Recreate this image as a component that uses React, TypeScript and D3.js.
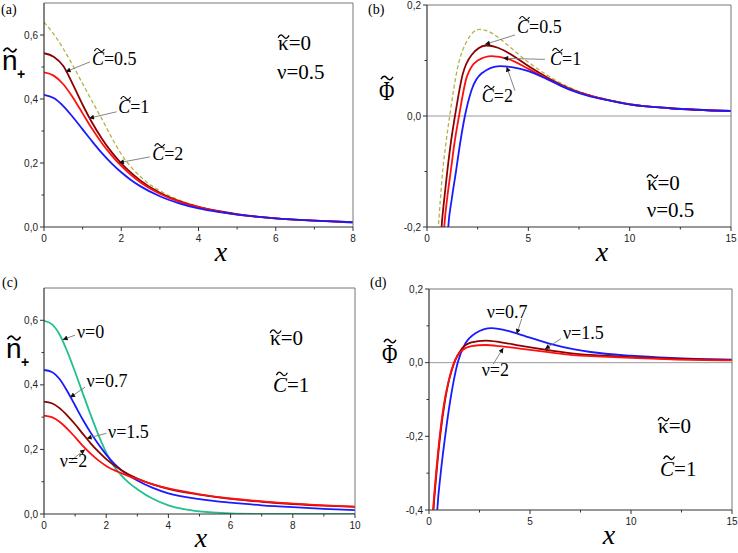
import React from "react";
import * as d3 from "d3";

type Pt = [number, number];

// (a) n+ against x, kappa=0, nu=0.5
const nDashedA: Pt[] = [
  [0, 0.64], [0.25, 0.603], [0.5, 0.557], [0.75, 0.504], [1, 0.448], [1.25, 0.392],
  [1.5, 0.337], [1.75, 0.28], [2, 0.228], [2.25, 0.188], [2.5, 0.157], [2.75, 0.132],
  [3, 0.113], [3.5, 0.084], [4, 0.064], [5, 0.04], [6, 0.027], [7, 0.02], [8, 0.015],
];
const nC05A: Pt[] = [
  [0, 0.543], [0.25, 0.532], [0.5, 0.503], [0.75, 0.445], [1, 0.382], [1.25, 0.325],
  [1.5, 0.276], [1.75, 0.234], [2, 0.199], [2.25, 0.17], [2.5, 0.145], [3, 0.107],
  [3.5, 0.081], [4, 0.063], [4.5, 0.05], [5, 0.04], [6, 0.027], [7, 0.02], [8, 0.015],
];
const nC1A: Pt[] = [
  [0, 0.483], [0.25, 0.473], [0.5, 0.446], [0.75, 0.404], [1, 0.355], [1.25, 0.306],
  [1.5, 0.262], [1.75, 0.224], [2, 0.191], [2.25, 0.163], [2.5, 0.139], [3, 0.104],
  [3.5, 0.079], [4, 0.062], [4.5, 0.049], [5, 0.039], [6, 0.027], [7, 0.02], [8, 0.015],
];
const nC2A: Pt[] = [
  [0, 0.413], [0.25, 0.403], [0.5, 0.378], [0.75, 0.343], [1, 0.305], [1.25, 0.267],
  [1.5, 0.231], [1.75, 0.199], [2, 0.171], [2.25, 0.147], [2.5, 0.127], [3, 0.096],
  [3.5, 0.074], [4, 0.058], [4.5, 0.047], [5, 0.039], [6, 0.027], [7, 0.02], [8, 0.014],
];

// (b) Phi against x, kappa=0, nu=0.5
const phiDashedB: Pt[] = [
  [0.5, -0.23], [0.56, -0.2], [0.66, -0.15], [0.77, -0.1], [0.93, -0.05], [1.12, 0],
  [1.5, 0.085], [2, 0.137], [2.58, 0.156], [3, 0.153], [3.5, 0.142], [4, 0.127],
  [5, 0.097], [6, 0.072], [7, 0.052], [8, 0.038], [9, 0.029], [10, 0.022], [12, 0.014], [15, 0.009],
];
const phiC05B: Pt[] = [
  [0.67, -0.23], [0.72, -0.2], [0.85, -0.15], [1, -0.1], [1.17, -0.05], [1.38, 0],
  [1.76, 0.075], [2.2, 0.11], [2.94, 0.127], [3.5, 0.123], [4, 0.114], [5, 0.09],
  [6, 0.068], [7, 0.05], [8, 0.037], [9, 0.028], [10, 0.021], [12, 0.014], [15, 0.009],
];
const phiC1B: Pt[] = [
  [0.8, -0.23], [0.85, -0.2], [0.99, -0.15], [1.17, -0.1], [1.35, -0.05], [1.58, 0],
  [1.96, 0.07], [2.5, 0.1], [3.19, 0.108], [4, 0.103], [5, 0.085], [6, 0.066],
  [7, 0.049], [8, 0.037], [9, 0.028], [10, 0.021], [12, 0.014], [15, 0.009],
];
const phiC2B: Pt[] = [
  [1, -0.23], [1.05, -0.2], [1.22, -0.15], [1.43, -0.1], [1.63, -0.05], [1.87, 0],
  [2.2, 0.047], [2.7, 0.077], [3.6, 0.09], [4.5, 0.086], [5, 0.081], [6, 0.065],
  [7, 0.048], [8, 0.036], [9, 0.028], [10, 0.021], [12, 0.014], [15, 0.009],
];

// (c) n+ against x, kappa=0, C=1
const nNu0C: Pt[] = [
  [0, 0.598], [0.25, 0.588], [0.5, 0.556], [0.75, 0.503], [1, 0.44], [1.25, 0.373],
  [1.5, 0.307], [1.75, 0.245], [2, 0.19], [2.25, 0.148], [2.5, 0.118], [2.75, 0.095],
  [3, 0.077], [3.5, 0.047], [4, 0.027], [4.5, 0.015], [5, 0.008], [6, 0.002], [7, 0.0004],
  [8, 0], [10, 0],
];
const nNu07C: Pt[] = [
  [0, 0.446], [0.25, 0.44], [0.5, 0.418], [0.75, 0.38], [1, 0.336], [1.25, 0.292],
  [1.5, 0.252], [1.75, 0.216], [2, 0.184], [2.25, 0.157], [2.5, 0.135], [2.75, 0.118],
  [3, 0.104], [3.5, 0.081], [4, 0.064], [5, 0.046], [6, 0.035], [7, 0.027], [8, 0.021],
  [9, 0.016], [10, 0.012],
];
const nNu15C: Pt[] = [
  [0, 0.348], [0.25, 0.343], [0.5, 0.328], [0.75, 0.305], [1, 0.278], [1.25, 0.248],
  [1.5, 0.219], [1.75, 0.193], [2, 0.17], [2.5, 0.135], [3, 0.11], [3.5, 0.092],
  [4, 0.078], [5, 0.06], [6, 0.047], [7, 0.038], [8, 0.031], [9, 0.026], [10, 0.022],
];
const nNu2C: Pt[] = [
  [0, 0.305], [0.25, 0.3], [0.5, 0.286], [0.75, 0.264], [1, 0.238], [1.25, 0.211],
  [1.5, 0.187], [1.75, 0.166], [2, 0.149], [2.5, 0.126], [3, 0.108], [3.5, 0.092],
  [4, 0.079], [5, 0.061], [6, 0.048], [7, 0.039], [8, 0.032], [9, 0.027], [10, 0.023],
];

// (d) Phi against x, kappa=0, C=1
const phiNu07D: Pt[] = [
  [0.36, -0.45], [0.41, -0.4], [0.58, -0.3], [0.8, -0.2], [1.06, -0.1], [1.22, -0.05],
  [1.42, 0], [1.78, 0.05], [2.3, 0.08], [3.1, 0.094], [4, 0.085], [4.6, 0.075],
  [6, 0.051], [7.2, 0.036], [8, 0.029], [10, 0.019], [12, 0.013], [15, 0.008],
];
const phiNu15D: Pt[] = [
  [0.16, -0.45], [0.22, -0.4], [0.37, -0.3], [0.55, -0.2], [0.8, -0.1], [0.98, -0.05],
  [1.25, 0], [1.63, 0.038], [2.1, 0.055], [2.8, 0.06], [3.5, 0.056], [4.5, 0.046],
  [6, 0.033], [7.3, 0.024], [8, 0.021], [10, 0.015], [12, 0.011], [15, 0.007],
];
const phiNu2D: Pt[] = [
  [0.14, -0.45], [0.2, -0.4], [0.35, -0.3], [0.53, -0.2], [0.78, -0.1], [0.97, -0.05],
  [1.24, 0], [1.63, 0.033], [2.1, 0.045], [2.8, 0.048], [3.5, 0.045], [4.5, 0.038],
  [6, 0.028], [7.3, 0.02], [8, 0.018], [10, 0.013], [12, 0.009], [15, 0.006],
];

// ticks
const xTicks8 = [0, 2, 4, 6, 8];
const xMinor8 = [1, 3, 5, 7];
const xTicks10 = [0, 2, 4, 6, 8, 10];
const xMinor10 = [1, 3, 5, 7, 9];
const xTicks15 = [0, 5, 10, 15];
const xMinor15 = [2.5, 7.5, 12.5];
const nTicks = [0, 0.2, 0.4, 0.6];
const nMinor = [0.1, 0.3, 0.5];
const phiTicksB = [-0.2, 0, 0.2];
const phiMinorB = [-0.1, 0.1];
const phiTicksD = [-0.4, -0.2, 0, 0.2];
const phiMinorD = [-0.3, -0.1, 0.1];

const SERIF = "'Liberation Serif', 'Times New Roman', serif";
const SANS = "'Liberation Sans', Arial, sans-serif";

const DARKRED = "#8c0000";
const RED = "#ff1010";
const BLUE = "#1a1aff";
const GREEN = "#22c08c";
const OLIVE = "#b4b446";

type Series = { pts: Pt[]; color: string; width?: number; dash?: string };
type Note = { sym: "C" | "nu"; value: string; at: Pt; from: Pt; to: Pt };
type Param = { sym: "kappa" | "nu" | "C"; value: string; at: Pt };

type PanelSpec = {
  id: string;
  tag: string;
  tagPos: Pt;
  box: [number, number, number, number]; // left, right, top, bottom
  xDomain: Pt;
  yDomain: Pt;
  xTicks: number[];
  xMinor: number[];
  yTicks: number[];
  yMinor: number[];
  zero: boolean;
  series: Series[];
  notes: Note[];
  params: Param[];
  yTitle: "n" | "phi";
  yTitlePos: Pt;
  xTitlePos: Pt;
};

const panels: PanelSpec[] = [
  {
    id: "a", tag: "(a)", tagPos: [1, 14], box: [44, 353, 3, 227],
    xDomain: [0, 8], yDomain: [0, 0.7],
    xTicks: xTicks8, xMinor: xMinor8, yTicks: nTicks, yMinor: nMinor, zero: false,
    series: [
      { pts: nDashedA, color: OLIVE, width: 1.3, dash: "4,2.5" },
      { pts: nC05A, color: DARKRED },
      { pts: nC1A, color: RED },
      { pts: nC2A, color: BLUE },
    ],
    notes: [
      { sym: "C", value: "=0.5", at: [1.24, 0.506], from: [1.19, 0.516], to: [0.56, 0.485] },
      { sym: "C", value: "=1", at: [1.92, 0.356], from: [1.88, 0.36], to: [1.165, 0.34] },
      { sym: "C", value: "=2", at: [2.8, 0.209], from: [2.74, 0.219], to: [1.94, 0.201] },
    ],
    params: [
      { sym: "kappa", value: "=0", at: [6.06, 0.553] },
      { sym: "nu", value: "=0.5", at: [6.03, 0.4625] },
    ],
    yTitle: "n", yTitlePos: [2, 70], xTitlePos: [221, 261],
  },
  {
    id: "b", tag: "(b)", tagPos: [368, 14], box: [427, 731, 5, 227],
    xDomain: [0, 15], yDomain: [-0.2, 0.2],
    xTicks: xTicks15, xMinor: xMinor15, yTicks: phiTicksB, yMinor: phiMinorB, zero: true,
    series: [
      { pts: phiDashedB, color: OLIVE, width: 1.3, dash: "4,2.5" },
      { pts: phiC05B, color: DARKRED },
      { pts: phiC1B, color: RED },
      { pts: phiC2B, color: BLUE },
    ],
    notes: [
      { sym: "C", value: "=0.5", at: [4.44, 0.1495], from: [4.34, 0.146], to: [2.86, 0.129] },
      { sym: "C", value: "=1", at: [6.07, 0.092], from: [5.82, 0.102], to: [3.76, 0.104] },
      { sym: "C", value: "=2", at: [2.7, 0.025], from: [4.34, 0.0456], to: [3.93, 0.0888] },
    ],
    params: [
      { sym: "kappa", value: "=0", at: [10.85, -0.133] },
      { sym: "nu", value: "=0.5", at: [10.84, -0.182] },
    ],
    yTitle: "phi", yTitlePos: [379, 100], xTitlePos: [602, 261],
  },
  {
    id: "c", tag: "(c)", tagPos: [2, 287], box: [44, 355, 288, 514],
    xDomain: [0, 10], yDomain: [0, 0.7],
    xTicks: xTicks10, xMinor: xMinor10, yTicks: nTicks, yMinor: nMinor, zero: false,
    series: [
      { pts: nNu0C, color: GREEN },
      { pts: nNu07C, color: BLUE },
      { pts: nNu15C, color: DARKRED },
      { pts: nNu2C, color: RED },
    ],
    notes: [
      { sym: "nu", value: "=0", at: [1.06, 0.545], from: [1.0, 0.554], to: [0.6, 0.54] },
      { sym: "nu", value: "=0.7", at: [1.37, 0.393], from: [1.32, 0.393], to: [0.84, 0.361] },
      { sym: "nu", value: "=1.5", at: [2.06, 0.235], from: [2.01, 0.25], to: [1.37, 0.234] },
      { sym: "nu", value: "=2", at: [0.51, 0.146], from: [0.89, 0.167], to: [1.32, 0.2] },
    ],
    params: [
      { sym: "kappa", value: "=0", at: [7.27, 0.523] },
      { sym: "C", value: "=1", at: [7.36, 0.378] },
    ],
    yTitle: "n", yTitlePos: [6, 358], xTitlePos: [201, 547],
  },
  {
    id: "d", tag: "(d)", tagPos: [370, 287], box: [429, 732, 289, 510],
    xDomain: [0, 15], yDomain: [-0.4, 0.2],
    xTicks: xTicks15, xMinor: xMinor15, yTicks: phiTicksD, yMinor: phiMinorD, zero: true,
    series: [
      { pts: phiNu07D, color: BLUE },
      { pts: phiNu15D, color: DARKRED },
      { pts: phiNu2D, color: RED },
    ],
    notes: [
      { sym: "nu", value: "=0.7", at: [2.86, 0.122], from: [4.59, 0.119], to: [4.34, 0.078] },
      { sym: "nu", value: "=1.5", at: [6.63, 0.065], from: [6.53, 0.065], to: [5.74, 0.037] },
      { sym: "nu", value: "=2", at: [2.61, -0.035], from: [3.18, -0.004], to: [3.68, 0.04] },
    ],
    params: [
      { sym: "kappa", value: "=0", at: [11.34, -0.19] },
      { sym: "C", value: "=1", at: [11.44, -0.307] },
    ],
    yTitle: "phi", yTitlePos: [382, 363], xTitlePos: [609, 544],
  },
];

const fmtY = (v: number) =>
  (v < 0 ? "-" : "") + Math.abs(v).toFixed(1).replace(".", ",");

// small wave drawn above a letter
function Tilde({ cx, cy, w, h = 3, sw = 1.3 }: { cx: number; cy: number; w: number; h?: number; sw?: number }) {
  const x0 = cx - w / 2;
  const d = `M${x0},${cy + h * 0.4} C${x0 + w * 0.2},${cy - h} ${x0 + w * 0.35},${cy - h * 0.7} ${cx},${cy} S${x0 + w * 0.8},${cy + h} ${x0 + w},${cy - h * 0.4}`;
  return <path d={d} fill="none" stroke="#000" strokeWidth={sw} />;
}

function Panel({ p }: { p: PanelSpec }) {
  const [left, right, top, bottom] = p.box;
  const x = d3.scaleLinear().domain(p.xDomain).range([left, right]);
  const y = d3.scaleLinear().domain(p.yDomain).range([bottom, top]);
  const line = d3
    .line<Pt>()
    .x((d) => x(d[0]))
    .y((d) => y(d[1]))
    .curve(d3.curveMonotoneX);
  const clipId = `clip-${p.id}`;

  return (
    <g>
      <defs>
        <clipPath id={clipId}>
          <rect x={left} y={top} width={right - left} height={bottom - top} />
        </clipPath>
      </defs>

      {p.zero && (
        <line x1={left} x2={right} y1={y(0)} y2={y(0)} stroke="#9a9a9a" strokeWidth={1} />
      )}

      <g clipPath={`url(#${clipId})`}>
        {p.series.map((s, i) => (
          <path
            key={i}
            d={line(s.pts) ?? ""}
            fill="none"
            stroke={s.color}
            strokeWidth={s.width ?? 1.8}
            strokeDasharray={s.dash}
          />
        ))}
      </g>

      {/* frame */}
      <line x1={left} x2={right} y1={top} y2={top} stroke="#777" strokeWidth={1} />
      <line x1={right} x2={right} y1={top} y2={bottom} stroke="#777" strokeWidth={1} />
      <line x1={left} x2={left} y1={top} y2={bottom} stroke="#333" strokeWidth={1.2} />
      <line x1={left} x2={right} y1={bottom} y2={bottom} stroke="#333" strokeWidth={1.2} />

      {/* ticks */}
      {p.xTicks.map((t) => (
        <g key={`xt${t}`}>
          <line x1={x(t)} x2={x(t)} y1={bottom} y2={bottom + 4} stroke="#333" />
          <text x={x(t)} y={bottom + 15} fontFamily={SANS} fontSize={10} fill="#222" textAnchor="middle">
            {t}
          </text>
        </g>
      ))}
      {p.xMinor.map((t) => (
        <line key={`xm${t}`} x1={x(t)} x2={x(t)} y1={bottom} y2={bottom + 2.5} stroke="#333" />
      ))}
      {p.yTicks.map((t) => (
        <g key={`yt${t}`}>
          <line x1={left - 4} x2={left} y1={y(t)} y2={y(t)} stroke="#333" />
          <text x={left - 6} y={y(t)} dy="0.35em" fontFamily={SANS} fontSize={10} fill="#222" textAnchor="end">
            {fmtY(t)}
          </text>
        </g>
      ))}
      {p.yMinor.map((t) => (
        <line key={`ym${t}`} x1={left - 2.5} x2={left} y1={y(t)} y2={y(t)} stroke="#333" />
      ))}

      {/* arrows and curve labels */}
      {p.notes.map((n, i) => {
        const tx = x(n.at[0]);
        const ty = y(n.at[1]);
        return (
          <g key={`n${i}`}>
            <line
              x1={x(n.from[0])}
              y1={y(n.from[1])}
              x2={x(n.to[0])}
              y2={y(n.to[1])}
              stroke="#777"
              strokeWidth={0.9}
              markerEnd="url(#arrowHead)"
            />
            <text x={tx} y={ty} fontFamily={SERIF} fontSize={18} fill="#000">
              {n.sym === "C" ? <tspan fontStyle="italic">C</tspan> : <tspan>ν</tspan>}
              {n.value}
            </text>
            {n.sym === "C" && <Tilde cx={tx + 7.5} cy={ty - 15} w={10} h={2.6} sw={1.1} />}
          </g>
        );
      })}

      {/* parameter labels */}
      {p.params.map((q, i) => {
        const tx = x(q.at[0]);
        const ty = y(q.at[1]);
        return (
          <g key={`p${i}`}>
            <text x={tx} y={ty} fontFamily={SERIF} fontSize={21} fill="#000">
              {q.sym === "C" ? <tspan fontStyle="italic">C</tspan> : q.sym === "nu" ? "ν" : "κ"}
              {q.value}
            </text>
            {q.sym === "kappa" && <Tilde cx={tx + 5.5} cy={ty - 13.5} w={11} h={3} sw={1.3} />}
            {q.sym === "C" && <Tilde cx={tx + 9} cy={ty - 18} w={11} h={3} sw={1.3} />}
          </g>
        );
      })}

      {/* axis titles */}
      {p.yTitle === "n" ? (
        <g>
          <text x={p.yTitlePos[0]} y={p.yTitlePos[1]} fontFamily={SANS} fontSize={28} fill="#000">
            n
          </text>
          <Tilde cx={p.yTitlePos[0] + 8} cy={p.yTitlePos[1] - 20} w={13} h={3.2} sw={1.7} />
          <text x={p.yTitlePos[0] + 15} y={p.yTitlePos[1] + 9} fontFamily={SANS} fontSize={14} fontWeight="bold" fill="#000">
            +
          </text>
        </g>
      ) : (
        <g>
          <text
            transform={`translate(${p.yTitlePos[0]},${p.yTitlePos[1]}) scale(0.78,1)`}
            fontFamily={SERIF}
            fontSize={27}
            fill="#000"
          >
            Φ
          </text>
          <Tilde cx={p.yTitlePos[0] + 8} cy={p.yTitlePos[1] - 22} w={12} h={3} sw={1.5} />
        </g>
      )}
      <text
        x={p.xTitlePos[0]}
        y={p.xTitlePos[1]}
        fontFamily={SERIF}
        fontStyle="italic"
        fontSize={28}
        textAnchor="middle"
        fill="#000"
      >
        x
      </text>

      <text x={p.tagPos[0]} y={p.tagPos[1]} fontFamily={SERIF} fontSize={14} fill="#000">
        {p.tag}
      </text>
    </g>
  );
}

export default function App() {
  return (
    <svg
      width={738}
      height={553}
      viewBox="0 0 738 553"
      style={{ position: "absolute", left: 0, top: 0, background: "#fff" }}
    >
      <defs>
        <marker
          id="arrowHead"
          viewBox="0 0 10 10"
          refX={10}
          refY={5}
          markerWidth={7}
          markerHeight={5}
          markerUnits="userSpaceOnUse"
          orient="auto"
        >
          <path d="M0,0 L10,5 L0,10 z" fill="#111" />
        </marker>
      </defs>
      <rect width={738} height={553} fill="#fff" />
      {panels.map((p) => (
        <Panel key={p.id} p={p} />
      ))}
    </svg>
  );
}
